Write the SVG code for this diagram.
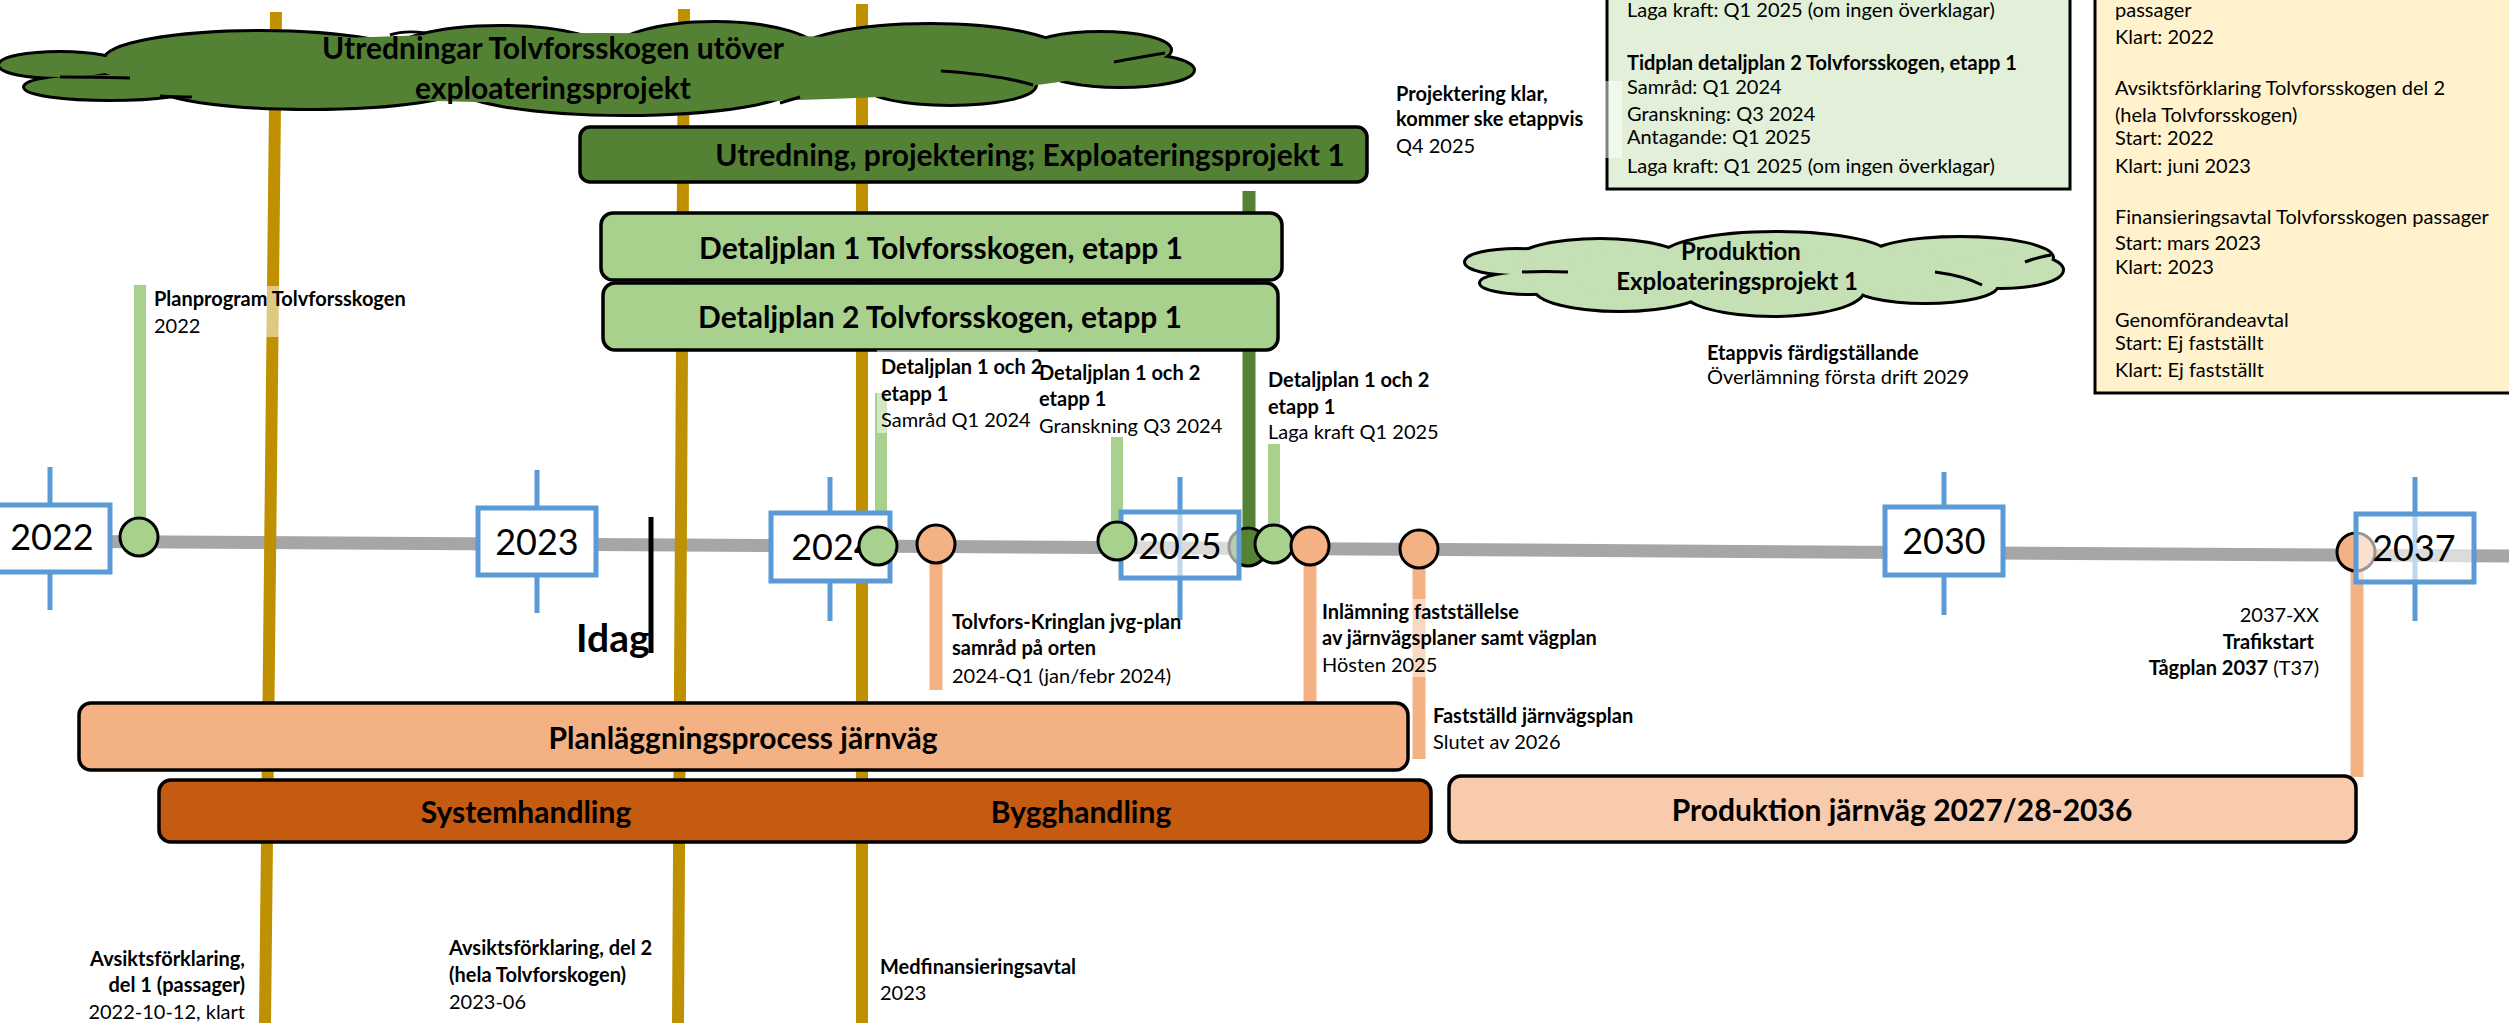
<svg xmlns="http://www.w3.org/2000/svg" width="2509" height="1023" viewBox="0 0 2509 1023">
<style>
text{font-family:Lato,"Liberation Sans",sans-serif;fill:#000}
.b{font-weight:bold}
.lbl{font-size:20px}
.ttl{font-size:30px;font-weight:bold;text-anchor:middle}
.yr{font-size:36px;text-anchor:middle}
.end{text-anchor:end}
.box{stroke:#000;stroke-width:3.5}
.yb{stroke:#5b9bd5;stroke-width:5}
.tick{stroke:#5b9bd5;stroke-width:5}
.dot{stroke:#000;stroke-width:3}
.gold{stroke:#bf9000;stroke-width:12}
.gs{stroke:#a9d18e;stroke-width:12}
.os{stroke:#f4b183;stroke-width:13}
.ds{stroke:#548235;stroke-width:13}
.bg{fill:#fff;fill-opacity:0.5}
.hint{fill:none;stroke:#000;stroke-width:3}
</style>
<rect width="2509" height="1023" fill="#fff"/>

<!-- timeline bar -->
<g id="timeline">
<line x1="0" y1="541" x2="2509" y2="556" stroke="#a6a6a6" stroke-width="13"/>
</g>

<g id="connectors">
<line class="gold" x1="276" y1="12" x2="265" y2="1023"/>
<line class="gold" x1="684" y1="9" x2="678" y2="1023"/>
<line class="gold" x1="862" y1="4" x2="862" y2="1023"/>
<line class="gs" x1="140" y1="285" x2="140" y2="518"/>
<line class="gs" x1="881" y1="393" x2="881" y2="527"/>
<line class="gs" x1="1117" y1="437" x2="1117" y2="522"/>
<line class="gs" x1="1274" y1="444" x2="1274" y2="525"/>
<line class="ds" x1="1249" y1="191" x2="1249" y2="528"/>
<line class="os" x1="936" y1="563" x2="936" y2="690"/>
<line class="os" x1="1310" y1="565" x2="1310" y2="702"/>
<line class="os" x1="1419" y1="568" x2="1419" y2="759"/>
<line class="os" x1="2357" y1="571" x2="2357" y2="777"/>
<line x1="651" y1="517" x2="651" y2="653" stroke="#000" stroke-width="5"/>
</g>

<!-- Cloud 1 -->
<g id="cloud-utredningar">
<g fill="#548235" stroke="#000" stroke-width="6">
<ellipse cx="60" cy="65" rx="60" ry="12"/>
<ellipse cx="110" cy="87" rx="85" ry="12"/>
<ellipse cx="260" cy="60" rx="155" ry="28"/>
<ellipse cx="500" cy="58" rx="115" ry="31"/>
<ellipse cx="715" cy="55" rx="105" ry="32"/>
<ellipse cx="930" cy="55" rx="135" ry="30"/>
<ellipse cx="1100" cy="50" rx="70" ry="17"/>
<ellipse cx="1120" cy="70" rx="73" ry="16"/>
<ellipse cx="950" cy="85" rx="85" ry="19"/>
<ellipse cx="625" cy="85" rx="170" ry="29"/>
<ellipse cx="310" cy="85" rx="155" ry="23"/>
</g>
<g fill="#548235">
<ellipse cx="60" cy="65" rx="60" ry="12"/>
<ellipse cx="110" cy="87" rx="85" ry="12"/>
<ellipse cx="260" cy="60" rx="155" ry="28"/>
<ellipse cx="500" cy="58" rx="115" ry="31"/>
<ellipse cx="715" cy="55" rx="105" ry="32"/>
<ellipse cx="930" cy="55" rx="135" ry="30"/>
<ellipse cx="1100" cy="50" rx="70" ry="17"/>
<ellipse cx="1120" cy="70" rx="73" ry="16"/>
<ellipse cx="950" cy="85" rx="85" ry="19"/>
<ellipse cx="625" cy="85" rx="170" ry="29"/>
<ellipse cx="310" cy="85" rx="155" ry="23"/>
<ellipse cx="600" cy="68" rx="500" ry="35"/>
</g>
<path class="hint" d="M60,77 Q95,77 130,78 M160,96 Q178,97 192,97 M390,35 Q405,30 425,33 M1114,62 Q1135,58 1165,53 M941,71 Q1000,75 1033,85 M780,103 Q790,100 800,97"/>
<text class="ttl" x="553" y="59">Utredningar Tolvforsskogen utöver</text>
<text class="ttl" x="553" y="99">exploateringsprojekt</text>
</g>

<g id="box-utredning">
<rect class="box" x="580" y="127" width="787" height="55" rx="10" fill="#548235"/>
<text class="ttl" x="1030" y="166">Utredning, projektering; Exploateringsprojekt 1</text>
</g>

<g id="box-detaljplan1">
<rect class="box" x="601" y="213" width="681" height="67" rx="12" fill="#a9d18e"/>
<text class="ttl" x="941" y="259">Detaljplan 1 Tolvforsskogen, etapp 1</text>
</g>

<g id="box-detaljplan2">
<rect class="box" x="603" y="283" width="675" height="67" rx="12" fill="#a9d18e"/>
<text class="ttl" x="940" y="328">Detaljplan 2 Tolvforsskogen, etapp 1</text>
</g>

<!-- Cloud 2 -->
<g id="cloud-produktion">
<g fill="#c5e0b4" stroke="#000" stroke-width="6">
<ellipse cx="1517" cy="262" rx="51" ry="12"/>
<ellipse cx="1531" cy="283" rx="50" ry="10"/>
<ellipse cx="1600" cy="262" rx="85" ry="22"/>
<ellipse cx="1776" cy="258" rx="115" ry="25"/>
<ellipse cx="1960" cy="258" rx="92" ry="20"/>
<ellipse cx="2000" cy="270" rx="62" ry="17"/>
<ellipse cx="1925" cy="285" rx="72" ry="17"/>
<ellipse cx="1773" cy="290" rx="90" ry="25"/>
<ellipse cx="1620" cy="288" rx="85" ry="22"/>
</g>
<g fill="#c5e0b4">
<ellipse cx="1517" cy="262" rx="51" ry="12"/>
<ellipse cx="1531" cy="283" rx="50" ry="10"/>
<ellipse cx="1600" cy="262" rx="85" ry="22"/>
<ellipse cx="1776" cy="258" rx="115" ry="25"/>
<ellipse cx="1960" cy="258" rx="92" ry="20"/>
<ellipse cx="2000" cy="270" rx="62" ry="17"/>
<ellipse cx="1925" cy="285" rx="72" ry="17"/>
<ellipse cx="1773" cy="290" rx="90" ry="25"/>
<ellipse cx="1620" cy="288" rx="85" ry="22"/>
<ellipse cx="1760" cy="272" rx="250" ry="22"/>
</g>
<path class="hint" d="M1522,272 Q1545,271 1568,272 M1935,272 Q1965,276 1982,285 M2025,262 Q2038,257 2051,255"/>
<text class="b" x="1741" y="260" font-size="24" text-anchor="middle">Produktion</text>
<text class="b" x="1737" y="290" font-size="24" text-anchor="middle">Exploateringsprojekt 1</text>
</g>

<!-- info boxes -->
<g id="info-detaljplan">
<rect x="1607" y="-10" width="463" height="199" fill="#e2f0d9" stroke="#000" stroke-width="3"/>
<text class="lbl" x="1627" y="17">Laga kraft: Q1 2025 (om ingen överklagar)</text>
<text class="lbl b" x="1627" y="70">Tidplan detaljplan 2 Tolvforsskogen, etapp 1</text>
<text class="lbl" x="1627" y="94">Samråd: Q1 2024</text>
<text class="lbl" x="1627" y="121">Granskning: Q3 2024</text>
<text class="lbl" x="1627" y="144">Antagande: Q1 2025</text>
<text class="lbl" x="1627" y="173">Laga kraft: Q1 2025 (om ingen överklagar)</text>
</g>

<g id="info-avtal">
<rect x="2095" y="-10" width="430" height="403" fill="#fff2cc" stroke="#000" stroke-width="3"/>
<text class="lbl" x="2115" y="17">passager</text>
<text class="lbl" x="2115" y="44">Klart: 2022</text>
<text class="lbl" x="2115" y="95">Avsiktsförklaring Tolvforsskogen del 2</text>
<text class="lbl" x="2115" y="122">(hela Tolvforsskogen)</text>
<text class="lbl" x="2115" y="145">Start: 2022</text>
<text class="lbl" x="2115" y="173">Klart: juni 2023</text>
<text class="lbl" x="2115" y="224">Finansieringsavtal Tolvforsskogen passager</text>
<text class="lbl" x="2115" y="250">Start: mars 2023</text>
<text class="lbl" x="2115" y="274">Klart: 2023</text>
<text class="lbl" x="2115" y="327">Genomförandeavtal</text>
<text class="lbl" x="2115" y="350">Start: Ej fastställt</text>
<text class="lbl" x="2115" y="377">Klart: Ej fastställt</text>
</g>

<!-- circles under semi-transparent year boxes -->
<g id="milestone-projektering-dot">
<circle class="dot" cx="1248" cy="547" r="19" fill="#548235"/>
</g>
<g id="milestone-trafikstart-dot">
<circle class="dot" cx="2356" cy="552" r="19" fill="#f4b183"/>
</g>

<!-- year markers -->
<g id="year-2022">
<line class="tick" x1="50" y1="467" x2="50" y2="610"/>
<rect class="yb" x="-10" y="505" width="120" height="67" fill="#fff"/>
<text class="yr" x="52" y="550">2022</text>
</g>
<g id="year-2023">
<line class="tick" x1="537" y1="470" x2="537" y2="613"/>
<rect class="yb" x="478" y="508" width="118" height="67" fill="#fff"/>
<text class="yr" x="537" y="555">2023</text>
</g>
<g id="year-2024">
<line class="tick" x1="830" y1="477" x2="830" y2="621"/>
<rect class="yb" x="771" y="513" width="119" height="68" fill="#fff"/>
<text class="yr" x="833" y="560">2024</text>
</g>
<g id="year-2025">
<line class="tick" x1="1180" y1="477" x2="1180" y2="620"/>
<rect class="yb" x="1121" y="512" width="118" height="66" fill="#fff" fill-opacity="0.6"/>
<text class="yr" x="1180" y="559">2025</text>
</g>
<g id="year-2030">
<line class="tick" x1="1944" y1="472" x2="1944" y2="615"/>
<rect class="yb" x="1885" y="507" width="118" height="68" fill="#fff"/>
<text class="yr" x="1944" y="554">2030</text>
</g>
<g id="year-2037">
<line class="tick" x1="2415" y1="477" x2="2415" y2="621"/>
<rect class="yb" x="2356" y="514" width="118" height="68" fill="#fff" fill-opacity="0.6"/>
<text class="yr" x="2414" y="561">2037</text>
</g>

<!-- milestone dots -->
<g id="milestone-planprogram-dot"><circle class="dot" cx="139" cy="537" r="19" fill="#a9d18e"/></g>
<g id="milestone-samrad-dot"><circle class="dot" cx="878" cy="546" r="19" fill="#a9d18e"/></g>
<g id="milestone-kringlan-dot"><circle class="dot" cx="936" cy="544" r="19" fill="#f4b183"/></g>
<g id="milestone-granskning-dot"><circle class="dot" cx="1117" cy="541" r="19" fill="#a9d18e"/></g>
<g id="milestone-lagakraft-dot"><circle class="dot" cx="1274" cy="544" r="19" fill="#a9d18e"/></g>
<g id="milestone-inlamning-dot"><circle class="dot" cx="1310" cy="546" r="19" fill="#f4b183"/></g>
<g id="milestone-faststalld-dot"><circle class="dot" cx="1419" cy="549" r="19" fill="#f4b183"/></g>

<!-- bars -->
<g id="box-planlaggning">
<rect class="box" x="79" y="703" width="1329" height="67" rx="12" fill="#f4b183"/>
<text class="ttl" x="743" y="749">Planläggningsprocess järnväg</text>
</g>
<g id="box-handling">
<rect class="box" x="159" y="780" width="1272" height="62" rx="12" fill="#c55a11"/>
<text class="ttl" x="526" y="823">Systemhandling</text>
<text class="ttl" x="1081" y="823">Bygghandling</text>
</g>
<g id="box-produktion-jarnvag">
<rect class="box" x="1449" y="776" width="907" height="66" rx="12" fill="#f8cbad"/>
<text class="ttl" x="1902" y="821">Produktion järnväg 2027/28-2036</text>
</g>

<!-- labels -->
<g id="label-planprogram">
<rect class="bg" x="150" y="286" width="262" height="51"/>
<text class="lbl b" x="154" y="306">Planprogram Tolvforsskogen</text>
<text class="lbl" x="154" y="333">2022</text>
</g>
<g id="label-samrad">
<rect class="bg" x="877" y="350" width="161" height="83"/>
<text class="lbl b" x="881" y="374">Detaljplan 1 och 2</text>
<text class="lbl b" x="881" y="401">etapp 1</text>
<text class="lbl" x="881" y="427">Samråd Q1 2024</text>
</g>
<g id="label-granskning">
<text class="lbl b" x="1039" y="380">Detaljplan 1 och 2</text>
<text class="lbl b" x="1039" y="406">etapp 1</text>
<text class="lbl" x="1039" y="433">Granskning Q3 2024</text>
</g>
<g id="label-lagakraft">
<text class="lbl b" x="1268" y="387">Detaljplan 1 och 2</text>
<text class="lbl b" x="1268" y="414">etapp 1</text>
<text class="lbl" x="1268" y="439">Laga kraft Q1 2025</text>
</g>
<g id="label-kringlan">
<text class="lbl b" x="952" y="629">Tolvfors-Kringlan jvg-plan</text>
<text class="lbl b" x="952" y="655">samråd på orten</text>
<text class="lbl" x="952" y="683">2024-Q1 (jan/febr 2024)</text>
</g>
<g id="label-inlamning">
<rect class="bg" x="1318" y="599" width="295" height="78"/>
<text class="lbl b" x="1322" y="619">Inlämning fastställelse</text>
<text class="lbl b" x="1322" y="645">av järnvägsplaner samt vägplan</text>
<text class="lbl" x="1322" y="672">Hösten 2025</text>
</g>
<g id="label-faststalld">
<text class="lbl b" x="1433" y="723">Fastställd järnvägsplan</text>
<text class="lbl" x="1433" y="749">Slutet av 2026</text>
</g>
<g id="label-projektering">
<rect class="bg" x="1392" y="81" width="230" height="77"/>
<text class="lbl b" x="1396" y="101">Projektering klar,</text>
<text class="lbl b" x="1396" y="126">kommer ske etappvis</text>
<text class="lbl" x="1396" y="153">Q4 2025</text>
</g>
<g id="label-etappvis">
<text class="lbl b" x="1707" y="360">Etappvis färdigställande</text>
<text class="lbl" x="1707" y="384">Överlämning första drift 2029</text>
</g>
<g id="label-trafikstart">
<text class="lbl end" x="2319" y="622">2037-XX</text>
<text class="lbl b end" x="2314" y="649">Trafikstart</text>
<text class="lbl end" x="2319" y="675"><tspan font-weight="bold">Tågplan 2037</tspan> (T37)</text>
</g>
<g id="label-idag">
<text class="b" x="576" y="652" font-size="39">Idag</text>
</g>
<g id="label-avsikt1">
<text class="lbl b end" x="245" y="966">Avsiktsförklaring,</text>
<text class="lbl b end" x="245" y="992">del 1 (passager)</text>
<text class="lbl end" x="245" y="1019">2022-10-12, klart</text>
</g>
<g id="label-avsikt2">
<text class="lbl b" x="449" y="955">Avsiktsförklaring, del 2</text>
<text class="lbl b" x="449" y="982">(hela Tolvforskogen)</text>
<text class="lbl" x="449" y="1009">2023-06</text>
</g>
<g id="label-medfinansiering">
<text class="lbl b" x="880" y="974">Medfinansieringsavtal</text>
<text class="lbl" x="880" y="1000">2023</text>
</g>
</svg>
